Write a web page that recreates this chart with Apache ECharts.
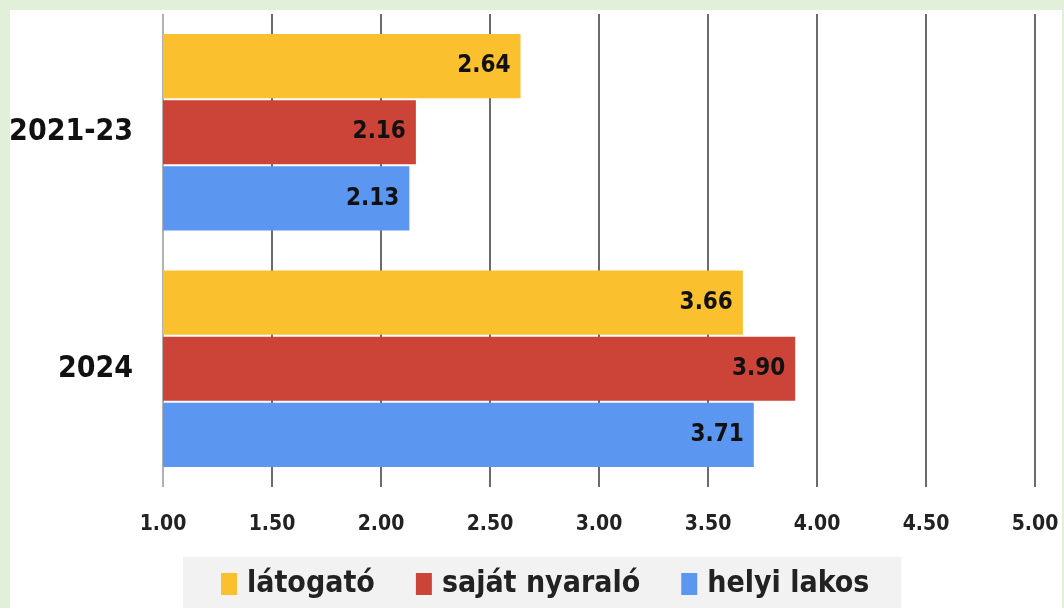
<!DOCTYPE html>
<html>
<head>
<meta charset="utf-8">
<script src="https://cdn.jsdelivr.net/npm/echarts@6/dist/echarts.min.js"></script>
<style>
  html, body { margin: 0; padding: 0; }
  body { width: 1064px; height: 608px; background: #e2efd9; position: relative; overflow: hidden; }
  #chart { position: absolute; left: 10px; top: 10px; width: 1052px; height: 598px; background: #fff; }
</style>
</head>
<body>
<div id="chart"></div>
<script>
// ========== 数据 ==========
const categories = ["2021-23", "2024"];
const latogato = [2.64, 3.66];
const sajatNyaralo = [2.16, 3.90];
const helyiLakos = [2.13, 3.71];
const seriesNames = ["látogató", "saját nyaraló", "helyi lakos"];
const colors = ["#fbc02d", "#cc4437", "#5b97f0"];

const narrow = "'DejaVu Sans Condensed', 'Liberation Sans Narrow', sans-serif";

const chart = echarts.init(document.getElementById("chart"));

const makeSeries = (name, data, color) => ({
  name: name,
  type: "bar",
  data: data,
  barGap: "3%",
  barCategoryGap: "17%",
  itemStyle: { color: color },
  label: {
    show: true,
    position: "insideRight",
    distance: 10,
    formatter: (p) => p.value.toFixed(2),
    color: "#111",
    fontFamily: narrow,
    fontWeight: "bold",
    fontSize: 24
  }
});

chart.setOption({
  animation: false,
  color: colors,
  grid: { left: 153, right: 27, top: 4, bottom: 121, outerBoundsMode: "none" },
  legend: {
    data: seriesNames,
    left: 173,
    top: 547,
    backgroundColor: "#f2f2f2",
    padding: [7, 32, 10, 38],
    itemGap: 41,
    itemWidth: 16,
    itemHeight: 22,
    icon: "rect",
    textStyle: {
      fontFamily: narrow,
      fontWeight: "bold",
      fontSize: 30,
      lineHeight: 40,
      color: "#222",
      padding: [0, 0, 0, 5]
    }
  },
  xAxis: {
    type: "value",
    min: 1,
    max: 5,
    interval: 0.5,
    axisLine: { show: false },
    axisTick: { show: false },
    axisLabel: {
      margin: 27,
      formatter: (v) => v.toFixed(2),
      color: "#222",
      fontFamily: narrow,
      fontWeight: "bold",
      fontSize: 21
    },
    splitLine: {
      show: true,
      lineStyle: {
        color: ["#999", "#3a3a3a", "#3a3a3a", "#3a3a3a", "#3a3a3a", "#3a3a3a", "#3a3a3a", "#3a3a3a", "#3a3a3a"],
        width: 1.5
      }
    }
  },
  yAxis: {
    type: "category",
    data: categories,
    inverse: true,
    axisLine: { show: false },
    axisTick: { show: false },
    axisLabel: {
      margin: 30,
      color: "#111",
      fontFamily: narrow,
      fontWeight: "bold",
      fontSize: 30
    }
  },
  series: [
    makeSeries(seriesNames[0], latogato, colors[0]),
    makeSeries(seriesNames[1], sajatNyaralo, colors[1]),
    makeSeries(seriesNames[2], helyiLakos, colors[2])
  ]
});
</script>
</body>
</html>
